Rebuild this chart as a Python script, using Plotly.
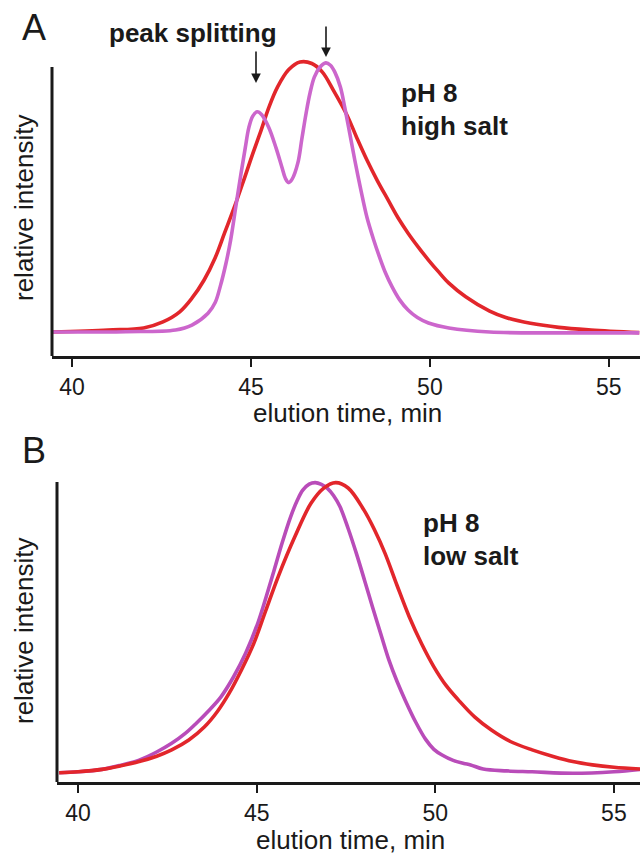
import plotly.graph_objects as go

# ---------------- data ----------------
# Panel A (pH 8, high salt)
a_red_t = [39.44, 41.0, 42.0, 42.54, 43.0, 43.35, 43.69, 44.0, 44.26, 44.55, 44.83, 45.05, 45.28,
           45.5, 45.74, 46.05, 46.37, 46.7, 46.99, 47.3, 47.68, 47.95, 48.24, 48.53, 48.83,
           49.1, 49.39, 49.68, 49.96, 50.25, 50.53, 51.0, 51.67, 52.12, 52.81, 53.6, 54.5, 55.85]
a_red_i = [0.083, 0.09, 0.097, 0.118, 0.152, 0.2, 0.263, 0.34, 0.425, 0.52, 0.62, 0.70, 0.78,
           0.86, 0.93, 0.99, 1.017, 1.012, 0.983, 0.92, 0.834, 0.757, 0.678, 0.607, 0.54,
           0.48, 0.425, 0.376, 0.332, 0.29, 0.252, 0.205, 0.155, 0.133, 0.113, 0.099, 0.09, 0.081]

a_mag_t = [39.44, 41.5, 42.89, 43.35, 43.8, 44.0, 44.14, 44.3, 44.43, 44.58, 44.72, 44.84, 44.94,
           45.05, 45.17, 45.3, 45.5, 45.7, 45.86, 45.96, 46.05, 46.15, 46.31, 46.42, 46.54,
           46.65, 46.77, 46.92, 47.09, 47.22, 47.34, 47.5, 47.62, 47.76, 47.9, 48.07, 48.24,
           48.42, 48.59, 48.76, 48.94, 49.15, 49.39, 49.65, 49.96, 50.53, 51.67, 53.5, 55.85]
a_mag_i = [0.083, 0.084, 0.09, 0.107, 0.148, 0.185, 0.24, 0.32, 0.40, 0.52, 0.63, 0.72, 0.79,
           0.83, 0.845, 0.835, 0.79, 0.72, 0.655, 0.615, 0.60, 0.612, 0.668, 0.75, 0.84,
           0.91, 0.965, 0.998, 1.014, 1.006, 0.983, 0.93, 0.86, 0.77, 0.678, 0.575, 0.48,
           0.405, 0.343, 0.287, 0.24, 0.195, 0.159, 0.133, 0.114, 0.097, 0.083, 0.08, 0.08]

# Panel B (pH 8, low salt)
b_red_t = [39.47, 40.0, 40.67, 41.2, 41.71, 42.2, 42.62, 43.1, 43.54, 43.9, 44.23, 44.58, 44.92,
           45.25, 45.6, 46.07, 46.52, 46.87, 47.21, 47.56, 48.0, 48.3, 48.59, 48.93, 49.27,
           49.62, 49.96, 50.3, 50.65, 51.1, 51.57, 52.1, 52.71, 53.3, 53.85, 54.4, 55.0, 55.76]
b_red_i = [0.031, 0.034, 0.042, 0.054, 0.068, 0.086, 0.107, 0.14, 0.184, 0.235, 0.296, 0.375, 0.462,
           0.57, 0.684, 0.818, 0.929, 0.979, 0.998, 0.98, 0.907, 0.84, 0.763, 0.655, 0.551,
           0.46, 0.384, 0.322, 0.273, 0.217, 0.173, 0.135, 0.107, 0.085, 0.068, 0.057, 0.049, 0.043]

b_mag_t = [39.47, 40.0, 40.67, 41.2, 41.71, 42.2, 42.62, 43.0, 43.31, 43.65, 44.0, 44.35, 44.69,
           45.03, 45.26, 45.49, 45.72, 45.95, 46.14, 46.29, 46.47, 46.64, 46.81, 46.98, 47.15,
           47.33, 47.56, 47.79, 48.02, 48.24, 48.47, 48.7, 48.93, 49.16, 49.45, 49.73, 49.96,
           50.19, 50.5, 50.8, 50.99, 51.34, 52.0, 52.71, 53.85, 55.0, 55.76]
b_mag_i = [0.031, 0.034, 0.042, 0.056, 0.073, 0.1, 0.129, 0.162, 0.196, 0.237, 0.284, 0.35, 0.429,
           0.529, 0.615, 0.707, 0.8, 0.884, 0.94, 0.973, 0.993, 0.998, 0.992, 0.979, 0.955,
           0.918, 0.845, 0.762, 0.672, 0.584, 0.495, 0.407, 0.335, 0.272, 0.2, 0.142, 0.109,
           0.09, 0.072, 0.062, 0.057, 0.043, 0.037, 0.034, 0.029, 0.034, 0.042]

tick_vals = [40, 45, 50, 55]
tick_text = ["40", "45", "50", "55"]

RED = "#E2262B"
MAG_A = "#CC66CC"
MAG_B = "#B94CB9"
INK = "#1a1a1a"
FONT = "Liberation Sans"

W, H = 640, 855
def px(x):
    return x / W
def py(y):
    return 1 - y / H

fig = go.Figure()
LW = 3.6
SM = 1.0
fig.add_trace(go.Scatter(x=a_red_t, y=a_red_i, mode="lines", line=dict(color=RED, width=LW, shape="spline", smoothing=SM),
                         xaxis="x", yaxis="y", showlegend=False))
fig.add_trace(go.Scatter(x=a_mag_t, y=a_mag_i, mode="lines", line=dict(color=MAG_A, width=LW, shape="spline", smoothing=SM),
                         xaxis="x", yaxis="y", showlegend=False))
fig.add_trace(go.Scatter(x=b_mag_t, y=b_mag_i, mode="lines", line=dict(color=MAG_B, width=LW, shape="spline", smoothing=SM),
                         xaxis="x2", yaxis="y2", showlegend=False))
fig.add_trace(go.Scatter(x=b_red_t, y=b_red_i, mode="lines", line=dict(color=RED, width=LW, shape="spline", smoothing=SM),
                         xaxis="x2", yaxis="y2", showlegend=False))

xa = dict(tickmode="array", tickvals=tick_vals, ticktext=tick_text, showgrid=False, zeroline=False,
          showline=True, linewidth=3, linecolor=INK, ticks="outside", ticklen=8, tickwidth=1.5,
          tickcolor=INK, tickfont=dict(family=FONT, size=23, color=INK))
ya = dict(showgrid=False, zeroline=False, showline=False, showticklabels=False, ticks="")

fig.update_layout(
    width=W, height=H, margin=dict(l=0, r=0, t=0, b=0),
    paper_bgcolor="white", plot_bgcolor="white",
    xaxis=dict(xa, domain=[px(52), 1], range=[39.44, 55.87], anchor="y"),
    yaxis=dict(ya, domain=[py(356), py(58)], range=[0, 1.031], anchor="x"),
    xaxis2=dict(xa, domain=[px(57), 1], range=[39.41, 55.73], anchor="y2"),
    yaxis2=dict(ya, domain=[py(782), py(476)], range=[0, 1.02], anchor="x2"),
)

# y axis lines (shorter than plotting area, as in the reference)
fig.add_shape(type="line", xref="x domain", yref="y", x0=0, x1=0, y0=0, y1=1.0,
              line=dict(color=INK, width=3))
fig.add_shape(type="line", xref="x2 domain", yref="y2", x0=0, x1=0, y0=0, y1=1.0,
              line=dict(color=INK, width=3))

def txt(x, y, s, size, bold=False, xanchor="center", yanchor="middle", angle=0):
    fig.add_annotation(x=px(x), y=py(y), xref="paper", yref="paper", text=("<b>%s</b>" % s) if bold else s,
                       showarrow=False, xanchor=xanchor, yanchor=yanchor, textangle=angle,
                       font=dict(family=FONT, size=size, color=INK))

# panel letters
txt(34, 28, "A", 36)
txt(34, 450, "B", 36)
# axis titles
txt(347, 413, "elution time, min", 26)
txt(350, 840, "elution time, min", 26)
txt(24, 208, "relative intensity", 26, angle=-90)
txt(24, 631, "relative intensity", 26, angle=-90)
# condition labels
txt(399, 93, "pH 8", 26, bold=True, xanchor="left")
txt(399, 126, "high salt", 26, bold=True, xanchor="left")
txt(421, 523, "pH 8", 26, bold=True, xanchor="left")
txt(421, 556, "low salt", 26, bold=True, xanchor="left")
txt(107, 33, "peak splitting", 26, bold=True, xanchor="left")

# arrows marking the two split peaks
for x_head, y_head, length in [(256, 83, 33), (326, 57, 32)]:
    fig.add_annotation(x=px(x_head), y=py(y_head), xref="paper", yref="paper", text="",
                       showarrow=True, ax=0, ay=-length, arrowhead=2, arrowsize=1.2,
                       arrowwidth=1.6, arrowcolor=INK, standoff=0)

fig.write_html("out.html", config={"displayModeBar": False},
               post_script="document.body.style.margin='0';document.body.style.padding='0';"
                           "document.documentElement.style.overflow='hidden';")
